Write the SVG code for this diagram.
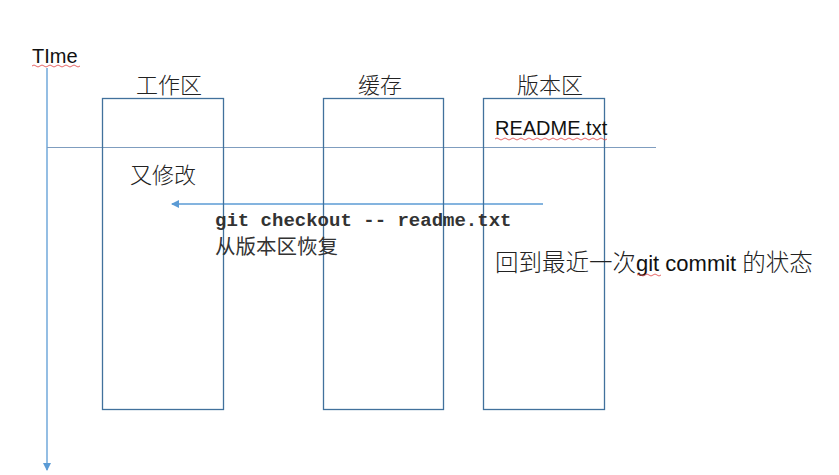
<svg xmlns="http://www.w3.org/2000/svg" width="839" height="475" viewBox="0 0 839 475">
<style>
.box{fill:none;stroke:#41719C;stroke-width:1.3}
.cjk{font-family:"Noto Sans CJK SC",sans-serif;font-weight:300;font-size:22px;fill:#222}
.lat{font-family:"Liberation Sans","Noto Sans CJK SC",sans-serif;fill:#111}
.wavy{fill:none;stroke:#e04040;stroke-width:0.8}
</style>
<defs>
<marker id="ah" markerWidth="8" markerHeight="8" refX="7" refY="4" orient="auto" markerUnits="userSpaceOnUse">
<path d="M0,0 L8,4 L0,8 z" fill="#5B9BD5"/>
</marker>
</defs>
<g id="connectors">
<line x1="47" y1="68" x2="47" y2="470" stroke="#5B9BD5" stroke-width="1.3" marker-end="url(#ah)"/>
<line x1="47" y1="147.5" x2="656" y2="147.5" stroke="#7F9DBF" stroke-width="1"/>
<line x1="543" y1="204" x2="172" y2="204" stroke="#5B9BD5" stroke-width="1.3" marker-end="url(#ah)"/>
</g>
<g id="time">
<text class="lat" x="32" y="63" font-size="20">TIme</text>
<path class="wavy" d="M32,66 q2,-2 4,0 t4,0 t4,0 t4,0 t4,0 t4,0 t4,0 t4,0 t4,0 t4,0 t4,0 t4,0"/>
</g>
<g id="workspace">
<rect class="box" x="102.5" y="98.5" width="121" height="311"/>
<text class="cjk" x="136" y="93">工作区</text>
<text class="cjk" x="130" y="183">又修改</text>
</g>
<g id="cache">
<rect class="box" x="323.5" y="98.5" width="120" height="311"/>
<text class="cjk" x="358" y="93">缓存</text>
</g>
<g id="repo">
<rect class="box" x="483.5" y="98.5" width="121" height="311"/>
<text class="cjk" x="517" y="93">版本区</text>
<text class="lat" x="495" y="135" font-size="20">README.txt</text>
<path class="wavy" d="M495,139 q2,-2 4,0 t4,0 t4,0 t4,0 t4,0 t4,0 t4,0 t4,0 t4,0 t4,0 t4,0 t4,0 t4,0 t4,0 t4,0 t4,0 t4,0 t4,0 t4,0 t4,0 t4,0 t4,0 t4,0 t4,0 t4,0 t4,0 t4,0 t4,0"/>
</g>
<g id="checkout-label">
<text x="215" y="226" font-family="Liberation Mono,monospace" font-weight="bold" font-size="19px" fill="#333">git checkout -- readme.txt</text>
<text class="cjk" x="215" y="254" style="font-weight:400;fill:#333;font-size:20.5px">从版本区恢复</text>
</g>
<g id="state-label">
<text class="cjk" x="495" y="271" style="font-size:23.5px"><tspan>回到最近一次</tspan><tspan font-family="Liberation Sans,sans-serif" font-weight="400" fill="#111" style="font-size:22px">git commit </tspan><tspan>的状态</tspan></text>
<path class="wavy" d="M637,275 q2,-2 4,0 t4,0 t4,0 t4,0 t4,0 t4,0"/>
</g>
</svg>
